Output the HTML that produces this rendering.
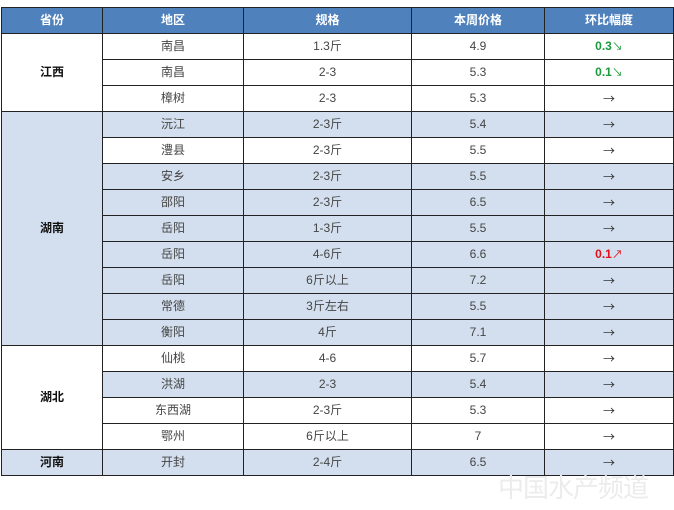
<!DOCTYPE html>
<html><head><meta charset="utf-8"><style>
html,body{margin:0;padding:0;background:#fff;width:674px;height:510px;overflow:hidden;position:relative}
table{position:absolute;left:1px;top:7px;border-collapse:collapse;table-layout:fixed;width:672px;font-family:"Liberation Sans","Noto Sans CJK SC",sans-serif;font-size:12px;color:#444}
td,th{border:1px solid #222;text-align:center;height:25px;padding:0;line-height:25px}
th{background:#4f81bd;color:#fff;font-weight:bold}
.b{background:#d3dfee}
.p{font-weight:bold;color:#111}
.g{color:#1a9a3a;font-weight:bold}
.r{color:#e0101a;font-weight:bold}
.a{font-family:"Noto Sans CJK SC",sans-serif;font-size:12px;color:#333}
.s{font-family:"Noto Sans CJK SC",sans-serif;font-weight:normal;font-size:11px}
.wm{position:absolute;left:498px;top:468px;font-family:"Noto Sans CJK SC",sans-serif;font-size:26px;color:#ececec;letter-spacing:-1px}
</style></head><body>
<table>
<colgroup><col style="width:101px"><col style="width:141px"><col style="width:168px"><col style="width:133px"><col style="width:129px"></colgroup>
<tr><th>省份</th><th>地区</th><th>规格</th><th>本周价格</th><th>环比幅度</th></tr>
<tr><td rowspan="3" class="p">江西</td><td>南昌</td><td>1.3斤</td><td>4.9</td><td class="g">0.3<span class="s">↘</span></td></tr>
<tr><td>南昌</td><td>2-3</td><td>5.3</td><td class="g">0.1<span class="s">↘</span></td></tr>
<tr><td>樟树</td><td>2-3</td><td>5.3</td><td class="a">→</td></tr>
<tr class="b"><td rowspan="9" class="p b">湖南</td><td>沅江</td><td>2-3斤</td><td>5.4</td><td class="a">→</td></tr>
<tr><td>澧县</td><td>2-3斤</td><td>5.5</td><td class="a">→</td></tr>
<tr class="b"><td>安乡</td><td>2-3斤</td><td>5.5</td><td class="a">→</td></tr>
<tr class="b"><td>邵阳</td><td>2-3斤</td><td>6.5</td><td class="a">→</td></tr>
<tr class="b"><td>岳阳</td><td>1-3斤</td><td>5.5</td><td class="a">→</td></tr>
<tr class="b"><td>岳阳</td><td>4-6斤</td><td>6.6</td><td class="r">0.1<span class="s">↗</span></td></tr>
<tr class="b"><td>岳阳</td><td>6斤以上</td><td>7.2</td><td class="a">→</td></tr>
<tr class="b"><td>常德</td><td>3斤左右</td><td>5.5</td><td class="a">→</td></tr>
<tr class="b"><td>衡阳</td><td>4斤</td><td>7.1</td><td class="a">→</td></tr>
<tr><td rowspan="4" class="p">湖北</td><td>仙桃</td><td>4-6</td><td>5.7</td><td class="a">→</td></tr>
<tr class="b"><td>洪湖</td><td>2-3</td><td>5.4</td><td class="a">→</td></tr>
<tr><td>东西湖</td><td>2-3斤</td><td>5.3</td><td class="a">→</td></tr>
<tr><td>鄂州</td><td>6斤以上</td><td>7</td><td class="a">→</td></tr>
<tr class="b"><td class="p">河南</td><td>开封</td><td>2-4斤</td><td>6.5</td><td class="a">→</td></tr>
</table>
<div class="wm">中国水产频道</div>
</body></html>
